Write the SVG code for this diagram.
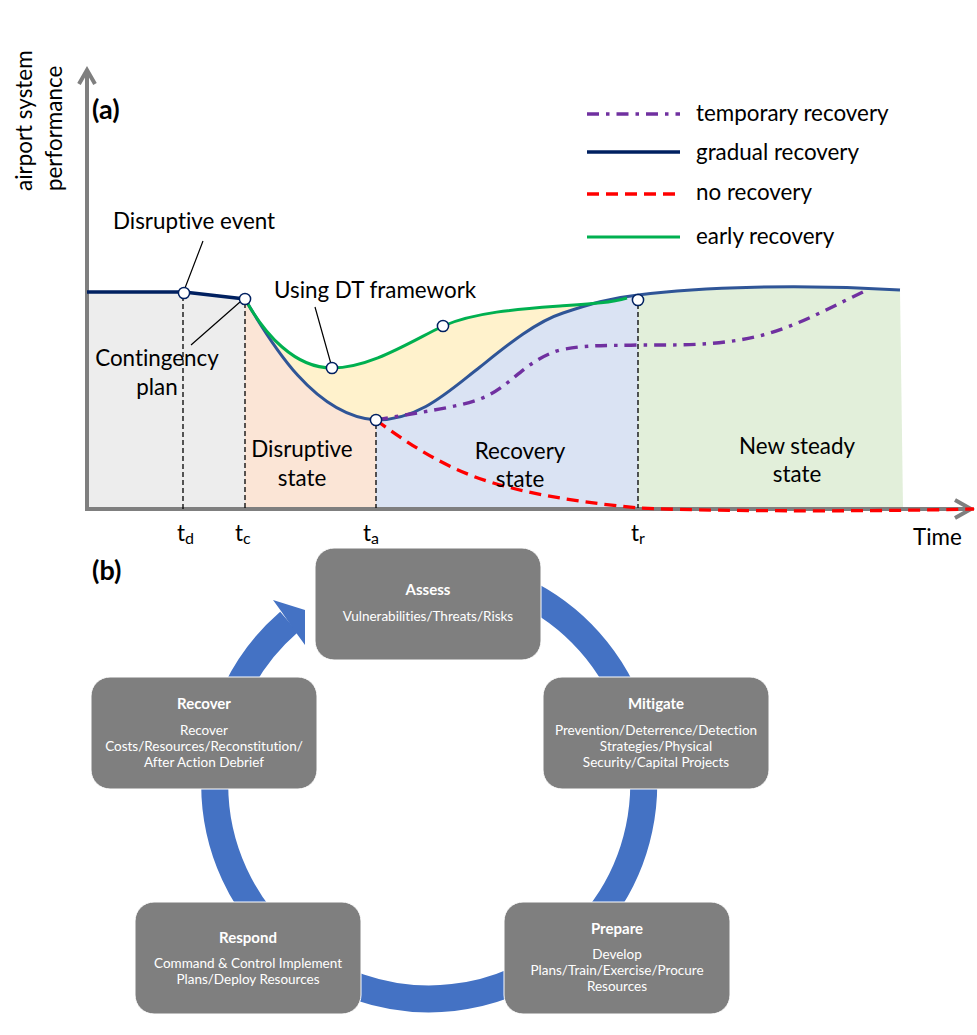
<svg xmlns="http://www.w3.org/2000/svg" width="977" height="1035" viewBox="0 0 977 1035">
<style>
text{font-family:"Lato","Carlito","Liberation Sans",sans-serif;fill:#000;font-variant-ligatures:none}
.l{font-size:22.4px}
.m{text-anchor:middle}
.h{font-size:27px;font-weight:700}
.sub{font-size:16px}
.ax{fill:none;stroke:#7f7f7f;stroke-width:4}
.dash{fill:none;stroke:#000;stroke-width:1.3;stroke-dasharray:5 3}
.lead{fill:none;stroke:#000;stroke-width:1.2}
.navy{fill:none;stroke:#002060;stroke-width:3.6}
.blue{fill:none;stroke:#2f5597;stroke-width:3}
.green{fill:none;stroke:#00b050;stroke-width:3}
.red{fill:none;stroke:#f00;stroke-width:3.3;stroke-dasharray:12 7}
.pur{fill:none;stroke:#7030a0;stroke-width:3.4;stroke-dasharray:12 7 3.5 7}
.pt{fill:#fff;stroke:#002060;stroke-width:1.5}
.box{fill:#7f7f7f;stroke:#fff;stroke-width:1}
.bt{fill:#fff;text-anchor:middle;font-size:15px;font-weight:700}
.bb{fill:#fff;text-anchor:middle;font-size:13.5px}
</style>
<g id="regions">
<path d="M87,292 L184,292 L245,299 V508 H87Z" fill="#ededed"/>
<path d="M245,299 C265,335 295,368 332,368 C370,368 410,342 443,326 C475,312 520,309 560,306 C590,304 610,303 627,298 V500 H245Z" fill="#fff2cc"/>
<path d="M245,299 C272,345 315,416 376,420 V508 H245Z" fill="#fbe5d6"/>
<path d="M376,420 C420,420 450,390 480,367 C505,347 535,322 563,313 C590,304 610,298 638,295 V508 H376Z" fill="#dae3f3"/>
<path d="M638,295 C700,287 800,284 900,290 L903,508 H638Z" fill="#e2efda"/>
</g>
<g id="axes">
<path class="ax" d="M87,511 V70 M79,84 L87,70 L95,84"/>
<path class="ax" d="M85,509 H970 M955,500 L971,509 L955,518"/>
</g>
<g id="guides">
<path class="dash" d="M183,296 V510 M245,303 V508 M376,424 V508 M638,304 V508"/>
<path class="lead" d="M203,241 L185,288 M240,302 L191,345 M315,307 L331,364"/>
</g>
<g id="curves">
<path class="navy" d="M87,292 H184 L245,299"/>
<path class="blue" d="M245,299 C272,345 315,416 376,420 C420,420 450,390 480,367 C505,347 535,322 563,313 C590,304 610,298 638,295 C700,287 800,284 900,290"/>
<path class="green" d="M245,299 C265,335 295,368 332,368 C370,368 410,342 443,326 C475,312 520,309 560,306 C590,304 610,303 627,298"/>
<path class="pur" d="M376,420 C420,412 455,408 480,399 C510,388 525,360 560,350 C590,344 610,346 638,345 C680,345 720,346 763,335 C800,325 835,305 867,290"/>
<path class="red" d="M376,420 C410,445 445,468 490,482 C540,497 590,503 638,508 C700,511 850,512 974,509"/>
</g>
<g id="points">
<circle class="pt" cx="184" cy="293" r="5.6"/>
<circle class="pt" cx="245" cy="299" r="5.6"/>
<circle class="pt" cx="332" cy="368" r="5.6"/>
<circle class="pt" cx="443" cy="326" r="5.6"/>
<circle class="pt" cx="376" cy="420" r="5.6"/>
<circle class="pt" cx="638" cy="300" r="5.6"/>
</g>
<g id="legend">
<path class="pur" d="M587,114 H680"/>
<path class="navy" d="M587,152 H680"/>
<path class="red" d="M587,194 H680"/>
<path class="green" d="M587,237 H680"/>
<text class="l" x="696" y="121">temporary recovery</text>
<text class="l" x="696" y="160">gradual recovery</text>
<text class="l" x="696" y="200">no recovery</text>
<text class="l" x="696" y="244">early recovery</text>
</g>
<g id="chart-labels">
<text class="l" transform="translate(32,191) rotate(-90)">airport system</text>
<text class="l" transform="translate(62,191) rotate(-90)">performance</text>
<text class="h" x="92" y="119">(a)</text>
<text class="h" x="92" y="580">(b)</text>
<text class="l" x="113" y="229">Disruptive event</text>
<text class="l" x="274" y="298">Using DT framework</text>
<text class="l m" x="157" y="366">Contingency</text>
<text class="l m" x="157" y="395">plan</text>
<text class="l m" x="302" y="457">Disruptive</text>
<text class="l m" x="302" y="486">state</text>
<text class="l m" x="520" y="459">Recovery</text>
<text class="l m" x="520" y="487">state</text>
<text class="l m" x="797" y="454">New steady</text>
<text class="l m" x="797" y="482">state</text>
<text class="l" x="177" y="541">t<tspan class="sub" dy="3">d</tspan></text>
<text class="l" x="235" y="541">t<tspan class="sub" dy="3">c</tspan></text>
<text class="l" x="363" y="541">t<tspan class="sub" dy="3">a</tspan></text>
<text class="l" x="631" y="541">t<tspan class="sub" dy="3">r</tspan></text>
<text class="l" x="913" y="545">Time</text>
</g>
<g id="connectors">
<path d="M530,595 A214.5,214.5 0 1 1 289,622" fill="none" stroke="#4472c4" stroke-width="27"/>
<polygon points="273,600 305,610 305,645 297,634 281,611" fill="#4472c4"/>
</g>
<g id="assess">
<rect class="box" x="315" y="548" width="226" height="112" rx="19"/>
<text class="bt" x="428" y="595">Assess</text>
<text class="bb" x="428" y="621">Vulnerabilities/Threats/Risks</text>
</g>
<g id="mitigate">
<rect class="box" x="543" y="677" width="226" height="112" rx="19"/>
<text class="bt" x="656" y="709">Mitigate</text>
<text class="bb" x="656" y="735">Prevention/Deterrence/Detection</text>
<text class="bb" x="656" y="751">Strategies/Physical</text>
<text class="bb" x="656" y="767">Security/Capital Projects</text>
</g>
<g id="prepare">
<rect class="box" x="504" y="902" width="226" height="112" rx="19"/>
<text class="bt" x="617" y="934">Prepare</text>
<text class="bb" x="617" y="959">Develop</text>
<text class="bb" x="617" y="975">Plans/Train/Exercise/Procure</text>
<text class="bb" x="617" y="991">Resources</text>
</g>
<g id="respond">
<rect class="box" x="135" y="902" width="226" height="112" rx="19"/>
<text class="bt" x="248" y="943">Respond</text>
<text class="bb" x="248" y="968">Command &amp; Control Implement</text>
<text class="bb" x="248" y="984">Plans/Deploy Resources</text>
</g>
<g id="recover">
<rect class="box" x="91" y="677" width="226" height="112" rx="19"/>
<text class="bt" x="204" y="709">Recover</text>
<text class="bb" x="204" y="735">Recover</text>
<text class="bb" x="204" y="751">Costs/Resources/Reconstitution/</text>
<text class="bb" x="204" y="767">After Action Debrief</text>
</g>
</svg>
